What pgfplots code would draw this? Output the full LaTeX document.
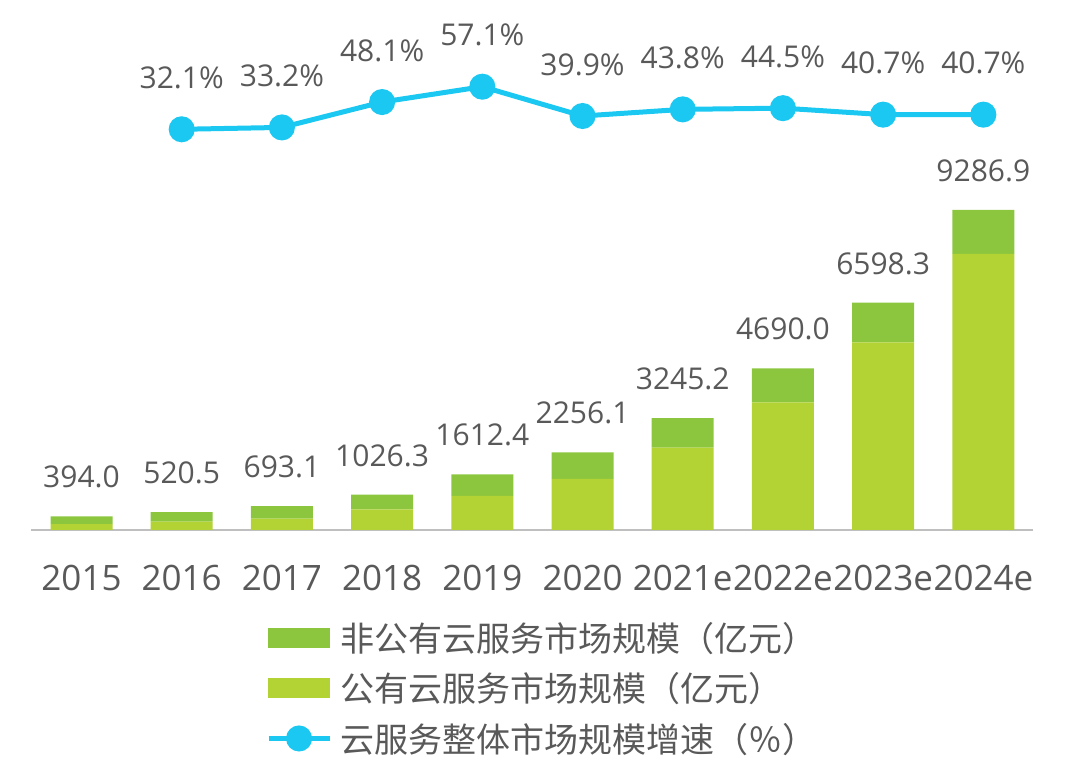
\documentclass[border=0pt]{standalone}
\usepackage{pgfplots}
\pgfplotsset{compat=1.18}
\usepackage{pgfplotstable}
\usepackage{fontspec}
\setmainfont{Open Sans}
\newfontfamily\cjk{Noto Sans CJK SC}

\definecolor{txt}{HTML}{595959}
\definecolor{nonpub}{HTML}{8CC63F}
\definecolor{pub}{HTML}{B3D334}
\definecolor{growth}{HTML}{1AC8F2}

% market size, 100 million yuan
\pgfplotstableread{
x public nonpub total
0 174  220.0  394.0
1 241  279.5  520.5
2 329  364.1  693.1
3 595  431.3  1026.3
4 987  625.4  1612.4
5 1480 776.1  2256.1
6 2388 857.2  3245.2
7 3706 984.0  4690.0
8 5447 1151.3 6598.3
9 8010 1276.9 9286.9
}\marketdata

% overall growth, %
\pgfplotstableread{
x rate
1 32.1
2 33.2
3 48.1
4 57.1
5 39.9
6 43.8
7 44.5
8 40.7
9 40.7
}\growthdata

\pgfplotsset{
  frame/.style={
    at={(31.4pt,233pt)}, anchor=south west,
    scale only axis, width=1002pt, height=510pt,
    xmin=-0.5, xmax=9.5, clip=false,
  },
}

\begin{document}
\begin{tikzpicture}
\useasboundingbox (0,0) rectangle (1080pt,763pt);
\begin{axis}[frame,
  ymin=0, ymax=14801,
  ybar stacked, bar width=62pt,
  axis x line=bottom, hide y axis,
  x axis line style={-, draw=black!25, line width=1.5pt},
  xtick={0,...,9},
  xticklabels={2015,2016,2017,2018,2019,2020,2021e,2022e,2023e,2024e},
  major tick length=0pt,
  xticklabel style={font=\fontsize{35}{40}\selectfont, text=txt, inner sep=0pt, anchor=north, yshift=-35pt},
]
\addplot[fill=pub, draw=none] table[x=x, y=public] {\marketdata};
\addplot[fill=nonpub, draw=none] table[x=x, y=nonpub] {\marketdata};
\end{axis}

% totals above the bars
\begin{axis}[frame, ymin=0, ymax=14801, hide axis]
\addplot[draw=none, point meta=explicit,
  nodes near coords={\pgfmathprintnumber[fixed, fixed zerofill, precision=1, 1000 sep={}, assume math mode=true]{\pgfplotspointmeta}},
  every node near coord/.append style={font=\fontsize{30}{36}\selectfont, text=txt, anchor=south, inner sep=0pt, yshift=28pt},
] table[x=x, y=total, meta=total] {\marketdata};
\end{axis}

\begin{axis}[frame,
  ymin=-203.05, ymax=96.24,
  hide axis,
  legend cell align=left,
  legend style={at={(0.234,-0.176)}, anchor=north west, draw=none, fill=none,
    inner sep=0pt, row sep=16pt, font=\cjk\fontsize{34}{40}\selectfont, text=txt,
    /tikz/every odd column/.append style={column sep=6pt}},
]
\addlegendimage{legend image code/.code={\fill[nonpub] (0pt,-9.5pt) rectangle (61pt,9.5pt);}}
\addlegendentry{非公有云服务市场规模（亿元）}
\addlegendimage{legend image code/.code={\fill[pub] (0pt,-9.5pt) rectangle (61pt,9.5pt);}}
\addlegendentry{公有云服务市场规模（亿元）}
\addplot[growth, line width=5pt, mark=*, mark size=10.5pt, mark options={solid, fill=growth, draw=none},
  point meta=explicit,
  nodes near coords={\pgfmathprintnumber[fixed, fixed zerofill, precision=1, assume math mode=true]{\pgfplotspointmeta}\%},
  every node near coord/.append style={font=\fontsize{30}{36}\selectfont, text=txt, anchor=south, inner sep=0pt, yshift=38pt},
  legend image code/.code={\draw[growth, line width=5pt] (0pt,0pt) -- (61pt,0pt); \fill[growth] (30.5pt,0pt) circle (10.5pt);},
] table[x=x, y=rate, meta=rate] {\growthdata};
\addlegendentry{云服务整体市场规模增速（％）}
\end{axis}
\end{tikzpicture}
\end{document}
